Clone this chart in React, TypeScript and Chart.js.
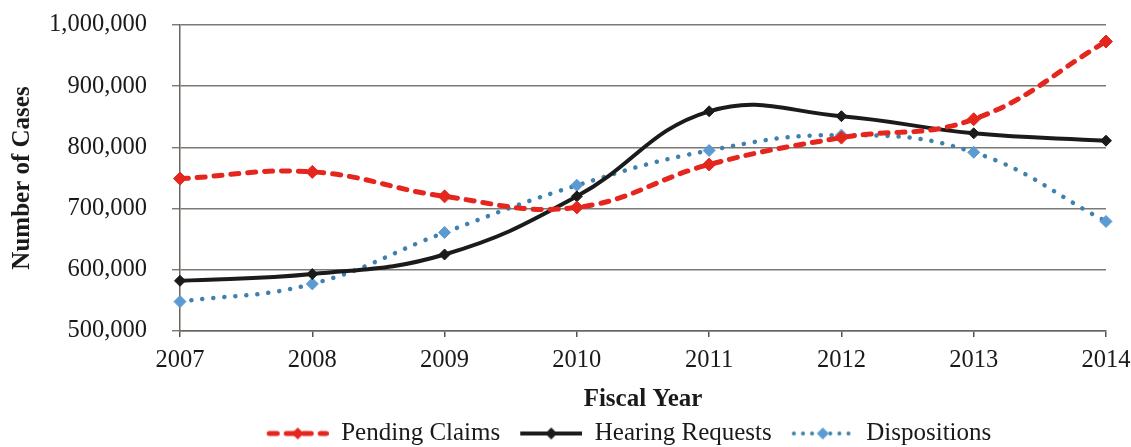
import React, { useEffect, useRef } from "react";
import { Chart, registerables } from "chart.js";

Chart.register(...registerables);

const years = ["2007", "2008", "2009", "2010", "2011", "2012", "2013", "2014"];
const pendingClaims = [749000, 760000, 720000, 702000, 772000, 816000, 846000, 973000];
const hearingRequests = [582000, 593000, 625000, 720000, 859000, 851000, 823000, 811000];
const dispositions = [548000, 577000, 661000, 738000, 795000, 820000, 792000, 679000];
const yTicks = [500000, 600000, 700000, 800000, 900000, 1000000];

const RED = "#e5261e";
const BLACK = "#1b1b1b";
const BLUE_LINE = "#3f80ad";
const BLUE_MARK = "#5b9bd2";
const FONT = "'Liberation Serif', 'Times New Roman', serif";

function makeIcon(color: string, markColor: string, width: number, dash: number[], cap: CanvasLineCap, markR: number) {
  const c = document.createElement("canvas");
  const w = 76;
  const h = 18;
  c.width = w;
  c.height = h;
  const ctx = c.getContext("2d")!;
  const x0 = 14;
  ctx.strokeStyle = color;
  ctx.lineWidth = width;
  ctx.lineCap = cap;
  ctx.setLineDash(dash);
  ctx.beginPath();
  ctx.moveTo(x0 + (cap === "round" ? width / 2 : 0), h / 2);
  ctx.lineTo(w - (cap === "round" ? width / 2 : 0), h / 2);
  ctx.stroke();
  ctx.setLineDash([]);
  const cx = (x0 + w) / 2;
  ctx.fillStyle = markColor;
  ctx.beginPath();
  ctx.moveTo(cx, h / 2 - markR);
  ctx.lineTo(cx + markR, h / 2);
  ctx.lineTo(cx, h / 2 + markR);
  ctx.lineTo(cx - markR, h / 2);
  ctx.closePath();
  ctx.fill();
  return c;
}

export default function App() {
  const ref = useRef<HTMLCanvasElement | null>(null);

  useEffect(() => {
    document.body.style.margin = "0";
    const canvas = ref.current!;
    const icons = [
      makeIcon(RED, RED, 5, [8, 9], "round", 6),
      makeIcon(BLACK, BLACK, 4, [], "butt", 6),
      makeIcon(BLUE_LINE, BLUE_MARK, 4, [0.1, 9], "round", 6),
    ];

    const legendShift = {
      id: "legendShift",
      afterLayout(chart: any) {
        const lg = chart.legend;
        if (!lg) return;
        const shift = 622 - (lg.left + lg.right) / 2;
        lg.left += shift;
        lg.right += shift;
        const dy = 9;
        lg.top += dy;
        lg.bottom += dy;
      },
    };

    const chart = new Chart(canvas, {
      type: "line",
      data: {
        labels: years,
        datasets: [
          {
            label: "Pending Claims",
            data: pendingClaims,
            borderColor: RED,
            backgroundColor: RED,
            borderWidth: 5,
            borderDash: [8, 9],
            borderCapStyle: "round",
            pointStyle: "rectRot",
            pointRadius: 6.5,
            pointBackgroundColor: RED,
            pointBorderColor: RED,
            pointBorderWidth: 1,
            tension: 0.42,
            clip: false,
          },
          {
            label: "Hearing Requests",
            data: hearingRequests,
            borderColor: BLACK,
            backgroundColor: BLACK,
            borderWidth: 4,
            pointStyle: "rectRot",
            pointRadius: 5.5,
            pointBackgroundColor: BLACK,
            pointBorderColor: BLACK,
            pointBorderWidth: 1,
            tension: 0.42,
            clip: false,
          },
          {
            label: "Dispositions",
            data: dispositions,
            borderColor: BLUE_LINE,
            backgroundColor: BLUE_MARK,
            borderWidth: 4.5,
            borderDash: [0.1, 11],
            borderCapStyle: "round",
            pointStyle: "rectRot",
            pointRadius: 6,
            pointBackgroundColor: BLUE_MARK,
            pointBorderColor: BLUE_MARK,
            pointBorderWidth: 1,
            tension: 0.42,
            clip: false,
          },
        ],
      },
      options: {
        animation: false,
        responsive: false,
        maintainAspectRatio: false,
        layout: { padding: { left: 0, right: 25, top: 25, bottom: 0 } },
        plugins: {
          tooltip: { enabled: false },
          legend: {
            position: "bottom",
            labels: {
              usePointStyle: true,
              pointStyleWidth: 76,
              padding: 6,
              color: "#1a1a1a",
              font: { family: FONT, size: 25 },
              generateLabels: (ch: any) => {
                const items = Chart.defaults.plugins.legend.labels.generateLabels(ch);
                items.sort((a: any, b: any) => a.datasetIndex - b.datasetIndex);
                items.forEach((it: any) => {
                  it.pointStyle = icons[it.datasetIndex];
                });
                return items;
              },
            },
          },
        },
        scales: {
          x: {
            type: "category",
            offset: false,
            grid: {
              display: true,
              drawOnChartArea: false,
              drawTicks: true,
              tickLength: 6,
              color: "#555",
              lineWidth: 1.5,
            },
            border: { display: true, color: "#6a6560", width: 1.5 },
            ticks: {
              color: "#1a1a1a",
              font: { family: FONT, size: 24.5 },
              padding: 9,
              maxRotation: 0,
              autoSkip: false,
            },
            title: {
              display: true,
              text: "Fiscal Year",
              color: "#1a1a1a",
              font: { family: FONT, size: 25, weight: "bold" },
              padding: { top: 0, bottom: -9 },
            },
            afterFit: (s: any) => {
              const lgH = s.chart.legend ? s.chart.legend.height : 0;
              s.height = 447 - 331 - lgH;
              s.paddingLeft = 0;
              s.paddingRight = 20;
            },
          },
          y: {
            min: 500000,
            max: 1000000,
            afterBuildTicks: (s: any) => {
              s.ticks = yTicks.map((v) => ({ value: v }));
            },
            grid: {
              color: "#7d7872",
              lineWidth: 1.4,
              drawTicks: true,
              tickLength: 8,
            },
            border: { display: true, color: "#6a6560", width: 1.5 },
            ticks: {
              color: "#1a1a1a",
              font: { family: FONT, size: 24.5 },
              padding: 25,
              callback: (v: any) => Number(v).toLocaleString("en-US"),
            },
            title: {
              display: true,
              text: "Number of Cases",
              color: "#1a1a1a",
              font: { family: FONT, size: 25, weight: "bold" },
              padding: { top: 8, bottom: 0 },
            },
            afterFit: (s: any) => {
              s.width = 180;
              s.paddingTop = 14;
              s.paddingBottom = 14;
            },
          },
        },
      },
      plugins: [legendShift],
    });

    return () => chart.destroy();
  }, []);

  return (
    <div style={{ position: "fixed", left: 0, top: 0, width: 1131, height: 447, background: "#fff" }}>
      <canvas ref={ref} width={1131} height={447} style={{ width: 1131, height: 447, display: "block" }} />
    </div>
  );
}
